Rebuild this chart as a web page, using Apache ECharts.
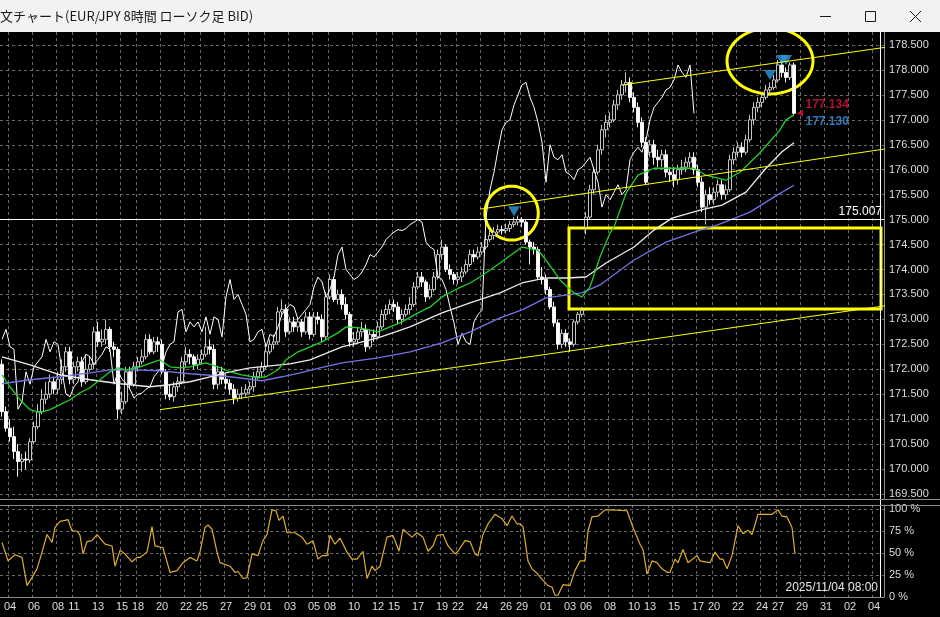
<!DOCTYPE html>
<html><head><meta charset="utf-8">
<script src="https://cdn.jsdelivr.net/npm/echarts@6/dist/echarts.min.js"></script>
<style>html,body{margin:0;padding:0;background:#000;overflow:hidden}#c{width:940px;height:617px}</style>
</head><body><div id="c"></div>
<script>
// ---------- DATA (EUR/JPY 8H) ----------
const opens = [
172.10,171.15,170.82,170.65,170.35,170.15,170.20,170.18,170.55,170.85,
171.15,171.40,171.50,171.75,171.60,171.80,172.05,172.35,171.80,172.05,
172.15,171.75,172.00,172.10,172.75,172.55,172.60,172.80,172.45,172.40,
171.20,171.35,171.95,171.70,172.05,172.15,172.25,172.60,172.35,172.55,
172.50,171.95,171.50,171.45,171.65,171.75,172.15,172.30,172.25,172.10,
172.20,172.30,172.45,172.40,171.70,171.95,171.80,171.72,171.60,171.42,
171.50,171.52,171.60,171.65,171.85,171.95,172.05,172.35,172.50,172.55,
173.15,173.20,172.75,172.95,172.85,172.95,172.75,173.05,172.70,173.05,
173.00,172.65,173.45,173.80,173.40,173.50,173.30,173.10,172.55,172.60,
172.75,172.80,172.45,172.70,172.65,172.85,173.10,173.20,173.30,173.25,
173.00,173.10,173.20,173.30,173.65,173.85,173.75,173.45,173.60,173.85,
174.30,174.45,174.00,173.90,173.80,173.85,173.95,174.10,174.30,174.25,
174.35,174.45,174.60,174.68,174.75,174.80,174.78,174.82,174.90,174.95,
175.00,174.95,174.55,174.45,174.40,173.85,173.80,173.60,173.25,172.93,
172.50,172.72,172.55,172.50,172.95,173.10,174.85,175.05,175.60,175.95,
176.40,176.80,176.95,177.00,177.30,177.50,177.70,177.75,177.45,177.25,
176.95,176.55,176.35,176.50,176.25,176.20,176.30,175.95,175.90,175.80,
176.00,176.05,176.15,176.25,176.00,175.75,175.25,175.50,175.40,175.55,
175.70,175.50,175.60,176.20,176.35,176.45,176.35,176.60,177.00,177.25,
177.35,177.45,177.60,177.65,177.80,178.10,177.95,177.85,178.10];
const closes = [
171.15,170.82,170.65,170.35,170.15,170.20,170.18,170.55,170.85,171.15,
171.40,171.50,171.75,171.60,171.80,172.05,172.35,171.80,172.05,172.15,
171.75,172.00,172.10,172.75,172.55,172.60,172.80,172.45,172.40,171.20,
171.35,171.95,171.70,172.05,172.15,172.25,172.60,172.35,172.55,172.50,
171.95,171.50,171.45,171.65,171.75,172.15,172.30,172.25,172.10,172.20,
172.30,172.45,172.40,171.70,171.95,171.80,171.72,171.60,171.42,171.50,
171.52,171.60,171.65,171.85,171.95,172.05,172.35,172.50,172.55,173.15,
173.20,172.75,172.95,172.85,172.95,172.75,173.05,172.70,173.05,173.00,
172.65,173.45,173.80,173.40,173.50,173.30,173.10,172.55,172.60,172.75,
172.80,172.45,172.70,172.65,172.85,173.10,173.20,173.30,173.25,173.00,
173.10,173.20,173.30,173.65,173.85,173.75,173.45,173.60,173.85,174.30,
174.45,174.00,173.90,173.80,173.85,173.95,174.10,174.30,174.25,174.35,
174.45,174.60,174.68,174.75,174.80,174.78,174.82,174.90,174.95,175.00,
174.95,174.55,174.45,174.40,173.85,173.80,173.60,173.25,172.93,172.50,
172.72,172.55,172.50,172.95,173.10,173.18,175.05,175.60,175.95,176.40,
176.80,176.95,177.00,177.30,177.50,177.70,177.75,177.45,177.25,176.95,
176.55,175.75,176.50,176.25,176.20,176.30,175.95,175.90,175.80,176.00,
176.05,176.15,176.25,176.00,175.75,175.25,175.50,175.40,175.55,175.70,
175.50,175.60,176.20,176.35,176.45,176.35,176.60,177.00,177.25,177.35,
177.45,177.60,177.65,177.80,178.10,177.95,177.85,178.10,177.13];
const lows = [
171.05,170.75,170.55,170.20,169.85,169.95,170.00,170.12,170.50,170.80,
171.10,171.30,171.42,171.50,171.50,171.70,171.95,171.70,171.70,171.95,
171.65,171.70,171.95,172.00,172.45,172.45,172.50,172.35,172.25,171.00,
171.10,171.30,171.60,171.65,171.95,172.10,172.20,172.30,172.30,172.35,
171.90,171.40,171.38,171.35,171.55,171.70,172.05,172.10,172.00,172.00,
172.10,172.25,172.30,171.60,171.60,171.70,171.60,171.50,171.30,171.35,
171.40,171.45,171.50,171.55,171.80,171.85,172.00,172.30,172.40,172.50,
173.05,172.65,172.70,172.75,172.75,172.65,172.70,172.60,172.65,172.90,
172.55,172.60,173.40,173.35,173.30,173.20,173.00,172.45,172.45,172.50,
172.65,172.35,172.40,172.55,172.60,172.80,173.00,173.10,173.15,172.90,
172.90,173.05,173.10,173.25,173.60,173.65,173.35,173.40,173.55,173.80,
174.20,173.95,173.80,173.70,173.70,173.75,173.90,174.05,174.15,174.20,
174.30,174.40,174.55,174.60,174.68,174.70,174.72,174.75,174.85,174.88,
174.85,174.50,174.10,174.30,173.80,173.70,173.50,173.20,172.85,172.40,
172.42,172.45,172.35,172.45,172.90,173.05,174.70,175.00,175.50,175.90,
176.30,176.65,176.85,176.95,177.20,177.40,177.55,177.35,177.15,176.85,
176.45,175.70,176.25,176.10,176.05,176.05,175.85,175.75,175.65,175.70,
175.90,175.95,176.05,175.90,175.65,175.15,174.90,175.30,175.30,175.45,
175.40,175.40,175.55,176.10,176.25,176.25,176.30,176.55,176.90,177.15,
177.25,177.40,177.50,177.60,177.75,177.85,177.75,177.80,177.10];
const highs = [
172.20,171.25,171.00,170.85,170.50,170.30,170.35,170.62,170.95,171.30,
171.60,171.75,171.90,171.85,171.95,172.20,172.45,172.45,172.15,172.25,
172.25,172.30,172.25,172.85,172.95,172.80,173.00,172.85,172.55,172.45,
171.55,172.05,172.05,172.15,172.25,172.40,172.70,172.70,172.65,172.65,
172.60,172.00,171.70,171.75,171.85,172.25,172.45,172.40,172.30,172.30,
172.40,172.85,172.60,172.50,172.05,172.05,171.90,171.80,171.70,171.60,
171.65,171.70,171.75,171.95,172.05,172.15,172.45,172.60,172.70,173.25,
173.40,173.30,173.05,173.05,173.05,173.00,173.15,173.15,173.15,173.15,
173.10,173.55,173.90,173.85,173.60,173.60,173.45,173.15,172.75,172.85,
172.95,172.90,172.80,172.80,172.95,173.20,173.30,173.40,173.40,173.35,
173.20,173.30,173.45,173.75,173.95,173.95,173.80,173.70,173.95,174.40,
174.60,174.50,174.10,173.95,173.95,174.05,174.20,174.40,174.40,174.45,
174.55,174.70,174.78,174.85,174.90,174.88,174.92,174.98,175.05,175.08,
175.05,175.00,174.60,174.55,174.45,174.05,173.90,173.65,173.35,173.00,
172.80,172.80,172.62,173.00,173.15,173.25,175.15,175.70,176.05,176.50,
176.90,177.10,177.15,177.40,177.60,177.80,177.95,177.85,177.55,177.35,
177.05,176.65,176.60,176.60,176.40,176.40,176.40,176.05,176.05,176.10,
176.20,176.25,176.35,176.35,176.10,175.85,175.60,175.65,175.65,175.80,
175.80,175.70,176.30,176.45,176.55,176.55,176.70,177.10,177.35,177.45,
177.55,177.70,177.75,177.90,178.20,178.20,178.05,178.15,178.15];

const barCount = 221; // visible slots incl. right-hand shift
const tickIdx = [2,8,14,18,24,30,34,40,46,50,56,62,66,72,78,82,88,94,98,104,110,114,120,126,130,136,142,146,152,158,162,168,174,178,184,190,194,200,206,212,218];
const tickLbl = ['04','06','08','11','13','15','18','20','22','25','27','29','01','03','05','08','10','12','15','17','19','22','24','26','29','01','03','06','08','10','13','15','17','20','22','24','27','29','31','02','04'];

const maGreen = [[0,171.89],[2,171.65],[4.5,171.39],[7,171.19],[9.5,171.13],[12,171.19],[14.5,171.29],[17,171.39],[19.5,171.53],[22,171.63],[24.5,171.79],[27,171.95],[29,172.03],[31,171.99],[34.5,172.05],[38,172.15],[39.5,172.19],[42,172.05],[44.5,172.03],[47,172.05],[51,172.13],[54,172.05],[57,171.95],[60,171.89],[64,171.83],[66,171.85],[69,171.99],[71,172.19],[74,172.35],[77,172.45],[80,172.55],[84,172.73],[86,172.85],[89.5,172.83],[94,172.75],[97,172.85],[100,172.95],[104,173.13],[107,173.25],[110,173.45],[114,173.62],[117,173.73],[119.5,173.85],[122,173.99],[124.5,174.13],[130,174.45],[134,174.39],[136,174.19],[139.5,173.79],[143,173.53],[145,173.45],[147,173.65],[149.5,174.25],[152,174.73],[153,174.85],[156,175.53],[159,175.89],[163,176.03],[169.5,176.03],[173,176.03],[176,175.89],[181,175.79],[184.5,175.95],[189.5,176.34],[194.5,176.80],[196,177.00],[198,177.10]];
const maWhite = [[0,172.25],[7,172.09],[14.5,171.89],[22,171.79],[29.5,171.71],[37,171.65],[42,171.69],[47,171.75],[52,171.85],[57,171.95],[62,172.03],[67,172.07],[72,172.11],[77,172.19],[85,172.45],[94,172.63],[102,172.85],[110,173.13],[117,173.33],[124.5,173.53],[130,173.73],[136,173.83],[141,173.83],[146,173.85],[151,174.13],[158,174.45],[163,174.79],[167.5,175.03],[174.5,175.19],[180,175.29],[186,175.55],[191,176.03],[195,176.36],[198,176.54]];
const maBlue = [[0,171.71],[7,171.79],[14.5,171.85],[22,171.93],[27,171.99],[33,171.99],[39.5,171.97],[47,171.91],[57,171.85],[65,171.77],[70,171.85],[74.5,171.93],[79.5,172.03],[85,172.13],[94,172.23],[102,172.35],[110,172.53],[117,172.75],[124.5,173.03],[130,173.19],[136,173.43],[145,173.53],[149.5,173.69],[158,174.19],[166,174.55],[174.5,174.79],[178.75,174.89],[187,175.15],[193.75,175.49],[198,175.69]];
const chikouShift = 25;

const oscPct = [[0,62],[1.5,41],[3.25,48],[5,45],[6.25,13],[7.5,22],[8.75,32],[10,51],[11.25,71],[12.5,62],[13.25,79],[14.5,86],[15.75,87],[16.5,88],[17.5,75],[18.75,75],[19.5,70],[20.25,49],[21.25,63],[22.5,64],[23.75,71],[25.75,60],[27.5,58],[28.25,35],[29.5,53],[30.75,49],[32.5,40],[33.75,45],[34.5,45],[36.25,51],[37.5,80],[38.25,58],[40.25,56],[42,28],[43.75,30],[45.25,39],[47,45],[48.75,41],[49.5,51],[50.75,79],[51.5,82],[52.5,77],[53.75,51],[54.5,39],[57,35],[58.25,28],[59,29],[60.25,21],[61.25,22],[62.5,49],[64,47],[65.25,64],[66.25,71],[67.5,99],[68.5,98],[69.25,87],[70.25,92],[71.25,73],[73.25,73],[75,68],[76.25,60],[77.75,64],[79,43],[80,47],[81.25,47],[82,70],[83.25,60],[84.5,67],[86.25,51],[87.5,43],[88.75,43],[90.25,52],[91.25,21],[92.5,35],[93.25,30],[94.5,35],[96.25,68],[97.75,70],[99.25,52],[100.25,77],[102.5,68],[103.75,73],[105.25,68],[106.5,52],[107.75,58],[108.75,70],[110.25,71],[111.5,58],[113.25,49],[114,52],[115.75,64],[117,63],[118.25,49],[119,47],[120.25,71],[121.5,83],[123.25,94],[125,89],[126.25,81],[127.5,92],[128.75,83],[129.5,83],[130.25,80],[131.5,41],[132.5,32],[133.75,27],[135,20],[136.5,13],[137.5,11],[138.25,2],[139,2],[140.25,14],[142,13],[143.25,30],[144.5,41],[145.75,41],[146.5,75],[147.5,91],[149,92],[150.75,99],[152,99],[156.25,98],[157.75,79],[159.5,60],[160.25,54],[161.25,26],[162.5,41],[163.75,39],[165,32],[166.25,28],[167,28],[168.25,43],[169,39],[170.25,54],[171.5,39],[173.75,47],[174.5,41],[177,39],[178.25,51],[179.5,43],[180.25,43],[181.25,32],[182.5,47],[184,81],[185.25,72],[186.5,76],[187.5,71],[189,94],[190.25,94],[192.5,94],[194,99],[195,92],[196.25,91],[197.5,79],[198.25,49]];

const channelUpper = [[155,177.70],[234.5,178.61]];
const channelMiddle = [[119.5,175.21],[234.5,176.58]];
const channelLower = [[39.5,171.19],[225.75,173.33]];
const boxArea = [[141.75,174.83],[219.75,173.21]];
const ellipses = [[127.4,175.13,6.67,0.54],[192,178.18,10.75,0.66]];
const sellSignals = [[128,175.17],[192,177.90],[195,178.20],[196,178.20]];
const hLineLevel = 175.007;
const bidPrice = 177.134, askPrice = 177.130;
const lastBarSlot = 219.5;   // white vertical marker
const priceMin = 169.5, priceMax = 178.5, priceStep = 0.5;

// ---------- CHART ----------
const FONT = 'Liberation Sans, Arial, sans-serif';
const GRID_C = '#6a6a6a';
const AX_C = '#8a8a8a';
const LBL_C = '#dcdcdc';
const cats = Array.from({length: barCount}, (_, i) => String(i));
const tickSet = new Set(tickIdx);
const lblMap = {}; tickIdx.forEach((t, k) => lblMap[t] = tickLbl[k]);
const ohlc = opens.map((o, i) => [o, closes[i], lows[i], highs[i]]);
const chikou = closes.map((c, i) => [i - chikouShift, c]).filter(p => p[0] >= 0);
const dash = {color: GRID_C, width: 1, type: [3, 3]};
const vInterval = (idx) => tickSet.has(idx);

const chart = echarts.init(document.getElementById('c'), null, {renderer: 'canvas', width: 940, height: 617});

const option = {
  backgroundColor: '#000000',
  animation: false,
  grid: [
    {left: 0, right: 56, top: 45, bottom: 123},   // 0 main price
    {left: 0, right: 56, top: 32, bottom: 118},   // 1 main background (vertical grid)
    {left: 0, right: 56, top: 509, bottom: 20},   // 2 oscillator
    {left: 0, right: 56, top: 505, bottom: 20}    // 3 oscillator background + dates
  ],
  xAxis: [
    {gridIndex: 0, type: 'category', data: cats, show: false, boundaryGap: true},
    {gridIndex: 0, type: 'value', min: -0.5, max: barCount - 0.5, show: false},
    {gridIndex: 1, type: 'category', data: cats, boundaryGap: true,
      axisLine: {show: true, lineStyle: {color: AX_C}}, axisTick: {show: false}, axisLabel: {show: false},
      splitLine: {show: true, interval: vInterval, lineStyle: dash}},
    {gridIndex: 2, type: 'value', min: -0.5, max: barCount - 0.5, show: false},
    {gridIndex: 3, type: 'category', data: cats, boundaryGap: true,
      axisLine: {show: true, lineStyle: {color: AX_C}}, axisTick: {show: false},
      axisLabel: {show: true, interval: vInterval, formatter: v => lblMap[+v] || '', color: LBL_C, fontSize: 11, fontFamily: FONT, margin: 4},
      splitLine: {show: true, interval: vInterval, lineStyle: dash}}
  ],
  yAxis: [
    {gridIndex: 0, type: 'value', position: 'right', min: priceMin, max: priceMax, interval: priceStep,
      axisLine: {show: false}, axisTick: {show: false},
      axisLabel: {formatter: v => v.toFixed(3), color: LBL_C, fontSize: 11, fontFamily: FONT, margin: 5},
      splitLine: {show: true, lineStyle: dash}},
    {gridIndex: 1, type: 'value', position: 'right', min: 0, max: 1,
      axisLine: {show: true, lineStyle: {color: AX_C}}, axisTick: {show: false}, axisLabel: {show: false}, splitLine: {show: false}},
    {gridIndex: 2, type: 'value', position: 'right', min: 0, max: 100, interval: 25,
      axisLine: {show: false}, axisTick: {show: false},
      axisLabel: {formatter: v => v + ' %', color: LBL_C, fontSize: 11, fontFamily: FONT, margin: 5},
      splitLine: {show: true, lineStyle: dash}},
    {gridIndex: 3, type: 'value', position: 'right', min: 0, max: 1,
      axisLine: {show: true, lineStyle: {color: AX_C}}, axisTick: {show: false}, axisLabel: {show: false}, splitLine: {show: false}}
  ],
  series: [
    {type: 'candlestick', name: 'EURJPY', xAxisIndex: 0, yAxisIndex: 0, data: ohlc, barWidth: 3,
      itemStyle: {color: '#000000', color0: '#ffffff', borderColor: '#c4c4c4', borderColor0: '#f4f4f4', borderWidth: 1},
      markLine: {silent: true, symbol: 'none', animation: false,
        data: [{yAxis: hLineLevel}],
        lineStyle: {color: '#ffffff', width: 1, type: 'solid'},
        label: {show: true, formatter: hLineLevel.toFixed(3), position: 'insideEndTop', color: '#ffffff', fontSize: 12, fontFamily: FONT, distance: [2, 1]}}},
    {type: 'line', name: 'chikou', xAxisIndex: 1, yAxisIndex: 0, data: chikou, symbol: 'none',
      lineStyle: {color: '#ffffff', width: 1}},
    {type: 'line', name: 'maBlue', xAxisIndex: 1, yAxisIndex: 0, data: maBlue, symbol: 'none',
      lineStyle: {color: '#7272e4', width: 1.3}},
    {type: 'line', name: 'maWhite', xAxisIndex: 1, yAxisIndex: 0, data: maWhite, symbol: 'none',
      lineStyle: {color: '#ececec', width: 1.3}},
    {type: 'line', name: 'maGreen', xAxisIndex: 1, yAxisIndex: 0, data: maGreen, symbol: 'none',
      lineStyle: {color: '#22d02c', width: 1.3},
      markArea: {silent: true, itemStyle: {color: 'rgba(0,0,0,0)', borderColor: '#ffff00', borderWidth: 3},
        data: [[{coord: boxArea[0]}, {coord: boxArea[1]}]]}},
    ...[channelUpper, channelMiddle, channelLower].map(d => ({
      type: 'line', xAxisIndex: 1, yAxisIndex: 0, data: d, symbol: 'none', clip: false,
      lineStyle: {color: '#ffff00', width: 1}})),
    {type: 'custom', name: 'circles', xAxisIndex: 1, yAxisIndex: 0, clip: false, data: ellipses,
      renderItem: (params, api) => {
        const c = api.coord([api.value(0), api.value(1)]);
        const e = api.coord([api.value(0) + api.value(2), api.value(1) + api.value(3)]);
        const rx = Math.abs(e[0] - c[0]), ry = Math.abs(e[1] - c[1]);
        const pts = [];
        for (let k = 0; k < 72; k++) { const a = k / 72 * Math.PI * 2; pts.push([c[0] + rx * Math.cos(a), c[1] + ry * Math.sin(a)]); }
        return {type: 'polygon', shape: {points: pts}, style: {fill: 'none', stroke: '#ffff00', lineWidth: 3}};
      }},
    {type: 'scatter', name: 'signals', xAxisIndex: 1, yAxisIndex: 0, data: sellSignals,
      symbol: 'triangle', symbolRotate: 180, symbolSize: [12, 10], itemStyle: {color: '#2b9be0'}},
    {type: 'scatter', name: 'pointer', xAxisIndex: 1, yAxisIndex: 0, data: [[lastBarSlot - 20, bidPrice]],
      symbol: 'triangle', symbolRotate: 90, symbolSize: [7, 6], itemStyle: {color: '#dc143c'}},
    {type: 'scatter', name: 'tags', xAxisIndex: 1, yAxisIndex: 0, symbolSize: 1, itemStyle: {color: 'rgba(0,0,0,0)'},
      data: [
        {value: [200.5, bidPrice], label: {show: true, position: 'right', distance: 1, offset: [0, -8], formatter: bidPrice.toFixed(3), color: '#e0143c', fontSize: 12, fontWeight: 'bold', fontFamily: FONT}},
        {value: [200.5, askPrice], label: {show: true, position: 'right', distance: 1, offset: [0, 8], formatter: askPrice.toFixed(3), color: '#3a9ae8', fontSize: 12, fontWeight: 'bold', fontFamily: FONT}}
      ]},
    {type: 'line', name: 'osc', xAxisIndex: 3, yAxisIndex: 2, data: oscPct, symbol: 'none',
      lineStyle: {color: '#e0ae2c', width: 1.2}}
  ]
};
chart.setOption(option);

const vx = Math.round(chart.convertToPixel({xAxisIndex: 1}, lastBarSlot)) + 0.5;
chart.setOption({graphic: [
  {type: 'line', silent: true, z: 50, shape: {x1: vx, y1: 32, x2: vx, y2: 597}, style: {stroke: '#ffffff', lineWidth: 1}},
  {type: 'line', silent: true, z: 50, shape: {x1: 0, y1: 499.5, x2: 940, y2: 499.5}, style: {stroke: AX_C, lineWidth: 1}},
  {type: 'line', silent: true, z: 50, shape: {x1: 0, y1: 505.5, x2: 940, y2: 505.5}, style: {stroke: AX_C, lineWidth: 1}},
  {type: 'text', silent: true, z: 50, x: 878, y: 588, style: {text: '2025/11/04 08:00', fill: '#e6e6e6', font: '12px ' + FONT, textAlign: 'right', textVerticalAlign: 'middle'}},
  {type: 'rect', silent: true, z: 100, shape: {x: 0, y: 0, width: 940, height: 32}, style: {fill: '#f2f2f2'}},
  {type: 'text', silent: true, z: 101, x: 0, y: 16, style: {text: '文チャート(EUR/JPY 8時間 ローソク足 BID)', fill: '#1a1a1a', font: '13px "Noto Sans CJK JP", sans-serif', textVerticalAlign: 'middle'}},
  {type: 'line', silent: true, z: 101, shape: {x1: 820, y1: 16.5, x2: 831, y2: 16.5}, style: {stroke: '#1a1a1a', lineWidth: 1}},
  {type: 'rect', silent: true, z: 101, shape: {x: 865.5, y: 11.5, width: 10, height: 10}, style: {fill: 'none', stroke: '#1a1a1a', lineWidth: 1}},
  {type: 'line', silent: true, z: 101, shape: {x1: 910, y1: 11, x2: 921, y2: 22}, style: {stroke: '#1a1a1a', lineWidth: 1}},
  {type: 'line', silent: true, z: 101, shape: {x1: 921, y1: 11, x2: 910, y2: 22}, style: {stroke: '#1a1a1a', lineWidth: 1}}
]});
</script></body></html>
